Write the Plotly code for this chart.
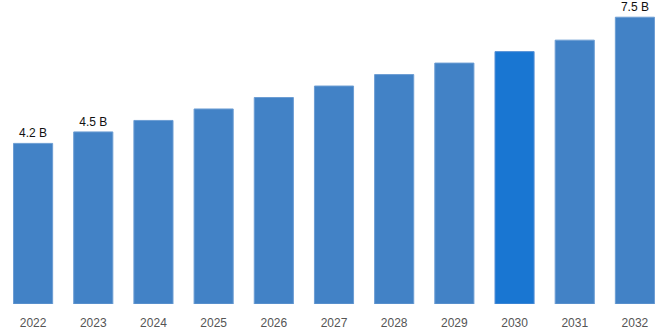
import plotly.graph_objects as go

years = ["2022", "2023", "2024", "2025", "2026", "2027", "2028", "2029", "2030", "2031", "2032"]
values = [4.2, 4.5, 4.8, 5.1, 5.4, 5.7, 6.0, 6.3, 6.6, 6.9, 7.5]
labels = ["4.2 B", "4.5 B", "", "", "", "", "", "", "", "", "7.5 B"]
highlight = "2030"

colors = ["#1976D2" if y == highlight else "#4282C6" for y in years]
line_colors = ["#5A93D6" if y == highlight else "#6C9DD3" for y in years]

fig = go.Figure(go.Bar(
    x=years, y=values, text=labels, textposition="outside",
    textfont=dict(family="Liberation Sans, Arial", size=12, color="#111111"),
    marker=dict(color=colors, line=dict(color=line_colors, width=1)),
    cliponaxis=False, hoverinfo="skip",
))
fig.update_layout(
    width=668, height=334,
    margin=dict(l=3, r=3, t=0, b=30),
    paper_bgcolor="white", plot_bgcolor="white",
    bargap=0.35, showlegend=False,
    xaxis=dict(type="category", showgrid=False, showline=False, ticks="",
               ticklabelstandoff=10,
               tickfont=dict(family="Liberation Sans, Arial", size=12, color="#555555")),
    yaxis=dict(range=[0, 7.95], visible=False, showgrid=False),
    uniformtext=dict(mode=False),
)
fig.write_html("out.html")
